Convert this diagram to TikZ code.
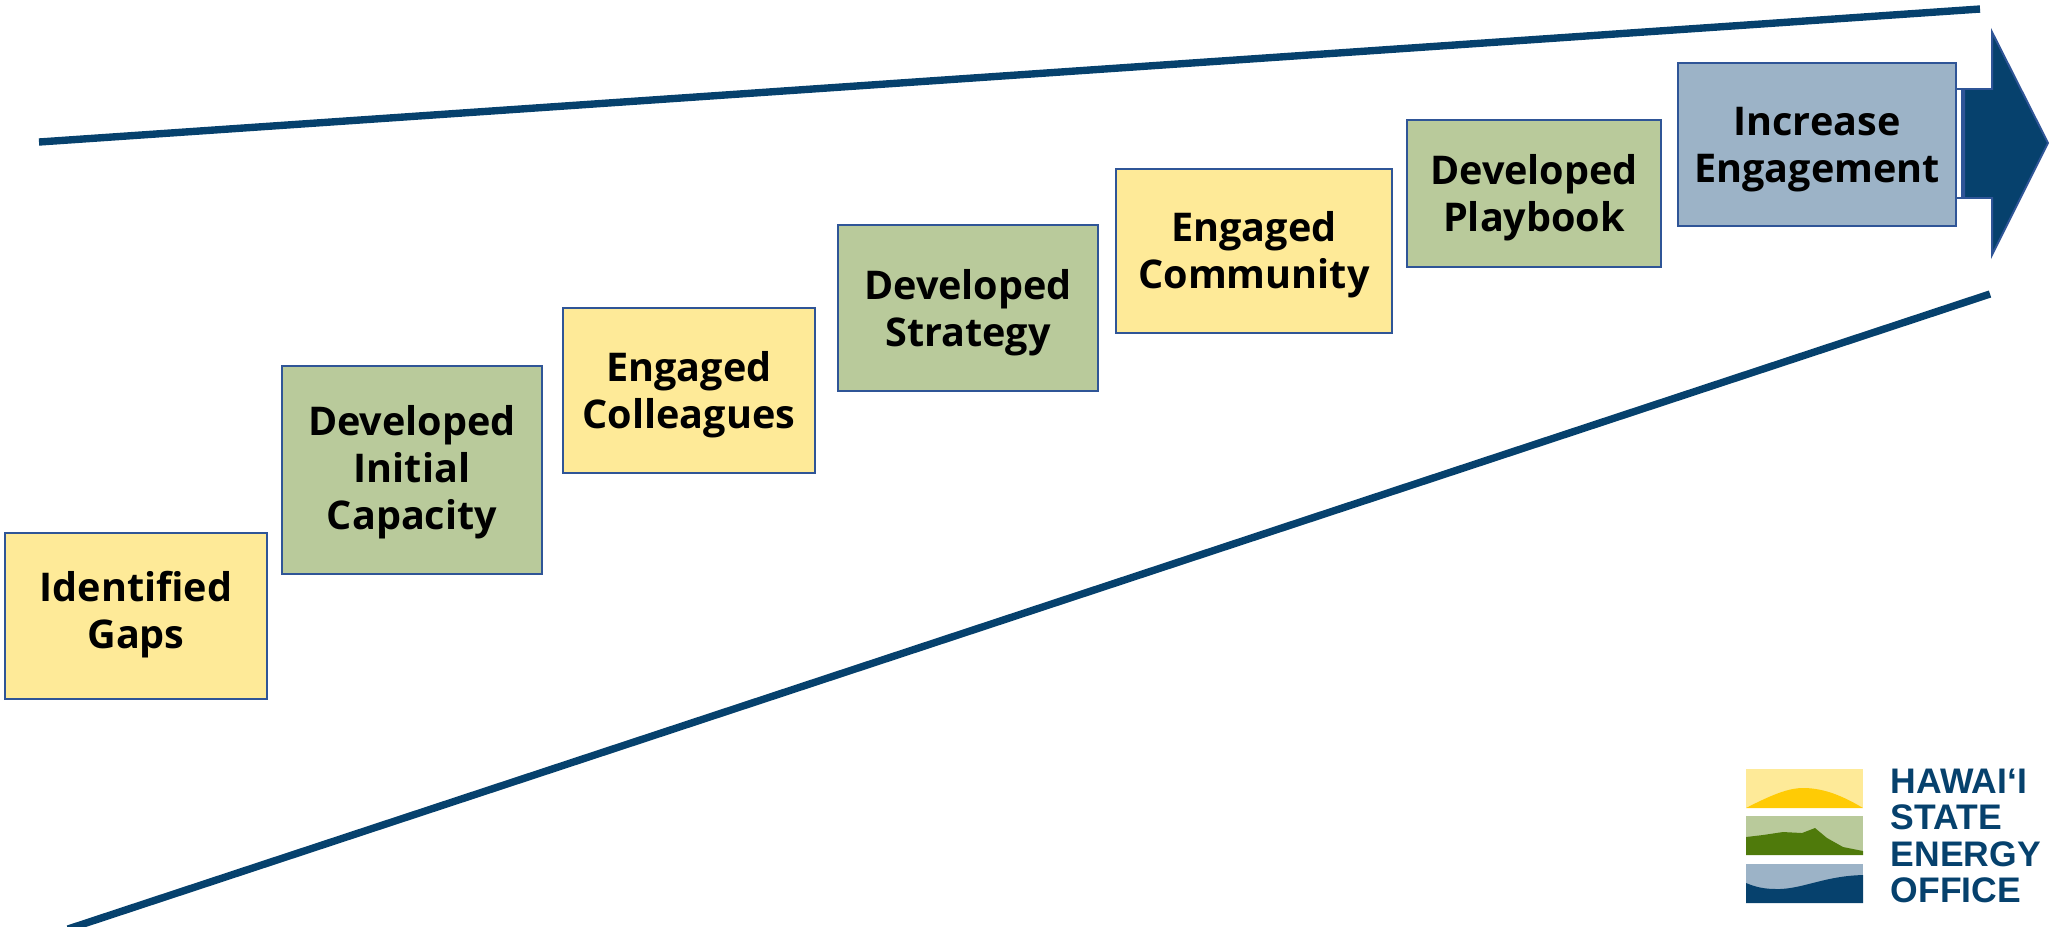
\documentclass[tikz,border=0pt]{standalone}
\usepackage{fontspec}
\setmainfont{Open Sans}
\newfontfamily\logofont{Liberation Sans}
\definecolor{navy}{HTML}{06416D}
\definecolor{edgeblue}{HTML}{2F5597}
\definecolor{paleyellow}{HTML}{FEEA98}
\definecolor{palegreen}{HTML}{B9CA9B}
\definecolor{paleblue}{HTML}{9CB3C7}
\definecolor{sunyellow}{HTML}{FFCB05}
\definecolor{hillgreen}{HTML}{4F7A0B}
\def\flabel{\fontsize{11.25}{13.4}\selectfont\bfseries}
\def\llabel{\logofont\fontsize{10.1}{10.1}\selectfont\bfseries}

\begin{document}
\begin{tikzpicture}[x=0.01cm,y=-0.01cm,
    stepbox/.style={draw=edgeblue,line width=0.55pt},
    boxtext/.style={text=black,align=center,inner sep=0pt,midway,font=\flabel},
    wedge/.style={draw=navy,line width=2.1pt},
    logotext/.style={text=navy,anchor=base west,inner sep=0pt,font=\llabel}
    ]
    \useasboundingbox (0,0) rectangle (2049,926);

    % wedge lines
    \coordinate (topleft) at (39,142);
    \coordinate (topright) at (1980,9);
    \coordinate (lowleft) at (68,929);
    \coordinate (lowright) at (1990,294);
    \draw[wedge] (topleft) -- (topright);
    \draw[wedge] (lowleft) -- (lowright);

    % arrow
    \draw[stepbox,fill=white] (1956,89) rectangle (1962,198);
    \draw[stepbox,fill=navy] (1964,89) -- (1992,89) -- (1992,32) -- (2048,143)
    -- (1992,255) -- (1992,198) -- (1964,198) -- cycle;

    % steps
    \foreach \nm/\xa/\ya/\xb/\yb/\col/\dy/\txt in {
      gaps/5/533/267/699/paleyellow/-1/{Identified\\Gaps},
      capacity/282/366/542/574/palegreen/2/{Developed\\Initial\\Capacity},
      colleagues/563/308/815/473/paleyellow/4/{Engaged\\Colleagues},
      strategy/838/225/1098/391/palegreen/5/{Developed\\Strategy},
      community/1116/169/1392/333/paleyellow/4/{Engaged\\Community},
      playbook/1407/120/1661/267/palegreen/4/{Developed\\Playbook},
      engagement/1678/63/1956/226/paleblue/5/{Increase\\Engagement}} {
      \draw[stepbox,fill=\col] (\xa,\ya) rectangle (\xb,\yb)
      node[boxtext,yshift=-\dy*0.01cm] (\nm) {\txt};
    }

    % logo
    \fill[paleyellow] (1746,769) rectangle (1863,808);
    \fill[sunyellow] (1746,808) .. controls (1775,793) and (1790,788) .. (1803,788)
    .. controls (1820,788) and (1838,793) .. (1863,808) -- cycle;
    \fill[palegreen] (1746,816) rectangle (1863,855);
    \fill[hillgreen] (1746,837) -- (1763,835) -- (1783,832) -- (1802,833) -- (1815,828)
    -- (1827,838) -- (1843,847) -- (1863,851) -- (1863,855) -- (1746,855) -- cycle;
    \fill[paleblue] (1746,864) rectangle (1863,903);
    \fill[navy] (1746,883) .. controls (1760,889) and (1770,889) .. (1780,889)
    .. controls (1805,888) and (1825,876) .. (1863,875) -- (1863,903) -- (1746,903) -- cycle;
    \node[logotext] (hawaii) at (1890,793) {HAWAI‘I};
    \node[logotext] (state) at (1890,829) {STATE};
    \node[logotext] (energy) at (1890,866) {ENERGY};
    \node[logotext] (office) at (1890,902) {OFFICE};
\end{tikzpicture}
\end{document}
